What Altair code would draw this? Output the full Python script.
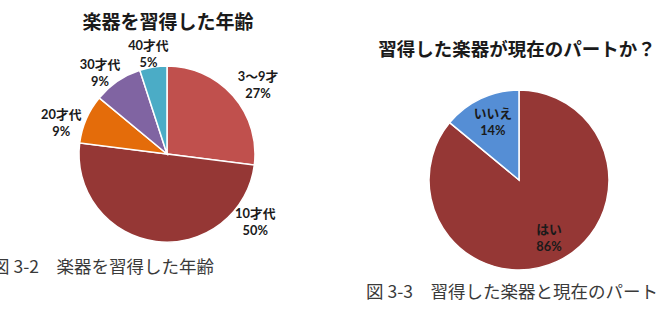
import altair as alt
import pandas as pd

# ---- data ----
age_cats = ["3～9才", "10才代", "20才代", "30才代", "40才代"]
age_vals = [27, 50, 9, 9, 5]
part_cats = ["はい", "いいえ"]
part_vals = [86, 14]

titles = ["楽器を習得した年齢", "習得した楽器が現在のパートか？"]
captions = ["図 3-2　楽器を習得した年齢", "図 3-3　習得した楽器と現在のパート"]

# ---- layout / style (not data) ----
age_colors = ["#C0504D", "#953735", "#E46C0A", "#8064A2", "#4BACC6"]
part_colors = ["#953735", "#558ED5"]
age_label_deg = [53, 128, 286, 320.4, 349.4]
age_label_r = [114, 112, 110, 105, 101]
part_label_deg = [153, 335.5]
part_label_r = [66, 63]
LINE_H = 17

LABEL_FONT = "Lato, Noto Sans CJK JP"
CJK_FONT = "Noto Sans CJK JP"

theta_scale = alt.Scale(domain=[0, 100], range=[0, 6.283185307179586])
color_scale = alt.Scale(domain=age_cats + part_cats, range=age_colors + part_colors)


def make_df(cats, vals, degs, radii):
    return pd.DataFrame({
        "cat": cats,
        "value": vals,
        "idx": list(range(len(cats))),
        "label": [f"{c}\n{v}%" for c, v in zip(cats, vals)],
        "lpos": [d / 3.6 for d in degs],
        "lr": radii,
    })


def pie(df, cx, cy, r):
    arc = alt.Chart(df).mark_arc(outerRadius=r, stroke="white", strokeWidth=1.5).encode(
        theta=alt.Theta("value:Q", stack=True, scale=theta_scale),
        color=alt.Color("cat:N", scale=color_scale, legend=None),
        order=alt.Order("idx:Q"),
        x=alt.value(cx),
        y=alt.value(cy),
    )
    txt = alt.Chart(df).mark_text(
        font=LABEL_FONT, fontSize=12.8, fontWeight="bold", lineBreak="\n",
        lineHeight=LINE_H, dy=-LINE_H / 2, color="#1a1a1a", align="center",
        baseline="middle",
    ).encode(
        theta=alt.Theta("lpos:Q", stack=None, scale=theta_scale),
        radius=alt.Radius("lr:Q", scale=None),
        text="label:N",
        x=alt.value(cx),
        y=alt.value(cy),
    )
    return [arc, txt]


def text_layer(s, x, y, size, weight, align="center", color="#1a1a1a"):
    return alt.Chart(alt.Data(values=[{"t": s}])).mark_text(
        font=CJK_FONT, fontSize=size, fontWeight=weight, align=align,
        baseline="middle", color=color,
    ).encode(text="t:N", x=alt.value(x), y=alt.value(y))


age_df = make_df(age_cats, age_vals, age_label_deg, age_label_r)
part_df = make_df(part_cats, part_vals, part_label_deg, part_label_r)

layers = []
layers += pie(age_df, 167, 154, 88)
layers += pie(part_df, 519, 180, 90)
layers.append(text_layer(titles[0], 168, 23, 19, "bold"))
layers.append(text_layer(titles[1], 517, 50, 18.5, "bold"))
layers.append(text_layer(captions[0], -8, 268, 17.5, "normal", align="left", color="#3a3a3a"))
layers.append(text_layer(captions[1], 366, 293, 17.5, "normal", align="left", color="#3a3a3a"))

chart = alt.layer(*layers).properties(
    width=660, height=331, autosize=alt.AutoSizeParams(type="none"), padding=0,
).resolve_scale(
    theta="shared", color="shared"
).configure_view(stroke=None)

chart.save("out.html", embed_options={"renderer": "svg", "actions": False})
